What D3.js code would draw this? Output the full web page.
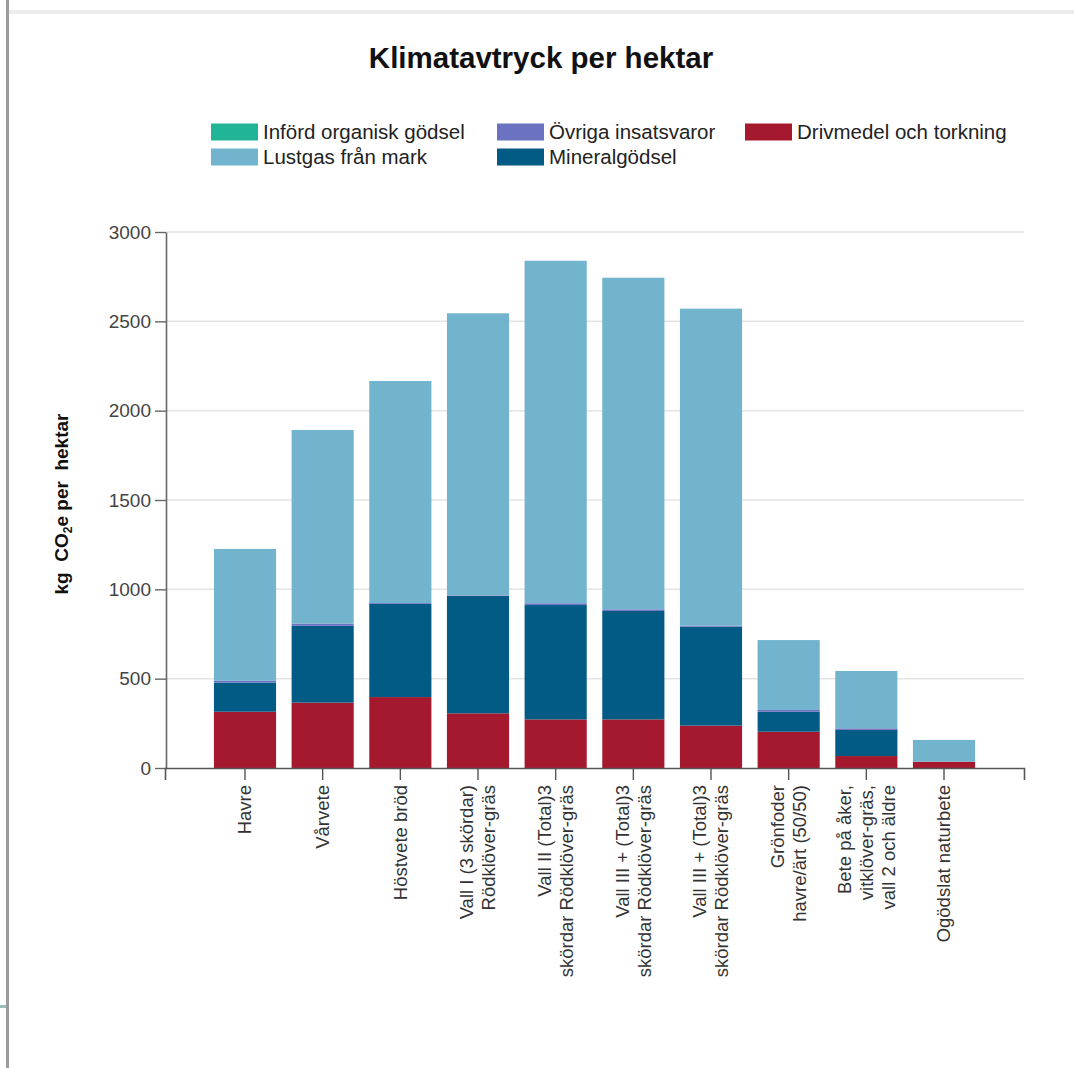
<!DOCTYPE html>
<html>
<head>
<meta charset="utf-8">
<script src="https://cdn.jsdelivr.net/npm/d3@7"></script>
<style>
  html, body { margin: 0; padding: 0; background: #fff; }
  svg { display: block; font-family: "Liberation Sans", Arial, sans-serif; }
</style>
</head>
<body>
<svg id="chart" width="1074" height="1068"></svg>
<script>
// Crop categories (line breaks mark wrapped axis labels)
const categories = [
  "Havre",
  "Vårvete",
  "Höstvete bröd",
  "Vall I (3 skördar)\nRödklöver-gräs",
  "Vall II (Total)3\nskördar Rödklöver-gräs",
  "Vall III + (Total)3\nskördar Rödklöver-gräs",
  "Vall III + (Total)3\nskördar Rödklöver-gräs",
  "Grönfoder\nhavre/ärt (50/50)",
  "Bete på åker,\nvitklöver-gräs,\nvall 2 och äldre",
  "Ogödslat naturbete"
];

// Emissions per source, kg CO2e per hektar
const drivmedel  = [315, 366, 397, 306, 272, 272, 237, 203, 67, 35];
const organisk   = [0, 0, 0, 0, 0, 0, 0, 0, 0, 0];
const mineral    = [163, 430, 521, 657, 640, 607, 554, 112, 146, 0];
const ovriga     = [10, 12, 5, 3, 10, 9, 5, 10, 9, 0];
const lustgas    = [738, 1084, 1243, 1579, 1917, 1856, 1775, 391, 321, 122];

const yTicks = [0, 500, 1000, 1500, 2000, 2500, 3000];

// Stack order, bottom to top
const seriesKeys = ["drivmedel", "organisk", "mineral", "ovriga", "lustgas"];
const seriesValues = { drivmedel, organisk, mineral, ovriga, lustgas };
const seriesColors = {
  organisk: "#1fb596",
  ovriga: "#6b72c2",
  drivmedel: "#a5192f",
  lustgas: "#72b4ce",
  mineral: "#025b85"
};
const seriesNames = {
  organisk: "Införd organisk gödsel",
  ovriga: "Övriga insatsvaror",
  drivmedel: "Drivmedel och torkning",
  lustgas: "Lustgas från mark",
  mineral: "Mineralgödsel"
};
// Legend arrangement: two rows
const legendRows = [["organisk", "ovriga", "drivmedel"], ["lustgas", "mineral"]];

const svg = d3.select("#chart");

// Page frame
svg.append("rect").attr("x", 9).attr("y", 10).attr("width", 1065).attr("height", 4).attr("fill", "#ececec");
svg.append("rect").attr("x", 6).attr("y", 0).attr("width", 3).attr("height", 1068).attr("fill", "#9c9c9c");
svg.append("rect").attr("x", 0).attr("y", 1005).attr("width", 6).attr("height", 3).attr("fill", "#9dbdbd");

const plotLeft = 166, plotRight = 1024, plotTop = 232, plotBottom = 768;

const rows = categories.map((c, i) => {
  const r = { i };
  seriesKeys.forEach(k => r[k] = seriesValues[k][i]);
  return r;
});

const x = d3.scaleBand()
  .domain(d3.range(categories.length))
  .range([165, plotRight])
  .paddingInner(0.2)
  .paddingOuter(0.63);

const y = d3.scaleLinear().domain([0, 3000]).range([plotBottom, plotTop]);

// Gridlines
svg.append("g")
  .selectAll("line")
  .data(yTicks.filter(t => t > 0))
  .join("line")
  .attr("x1", plotLeft).attr("x2", plotRight)
  .attr("y1", d => y(d)).attr("y2", d => y(d))
  .attr("stroke", "#e4e4e4").attr("stroke-width", 1.5);

// Stacked bars
const stack = d3.stack().keys(seriesKeys)(rows);
svg.append("g")
  .selectAll("g")
  .data(stack)
  .join("g")
  .attr("fill", d => seriesColors[d.key])
  .selectAll("rect")
  .data(d => d)
  .join("rect")
  .attr("x", d => x(d.data.i))
  .attr("width", x.bandwidth())
  .attr("y", d => y(d[1]))
  .attr("height", d => y(d[0]) - y(d[1]));

// Y axis
const yAxis = svg.append("g")
  .attr("transform", `translate(${plotLeft},0)`)
  .call(d3.axisLeft(y).tickValues(yTicks).tickFormat(d3.format("d"))
    .tickSize(11).tickSizeOuter(0).tickPadding(4));
yAxis.select(".domain").attr("stroke", "#666").attr("stroke-width", 1.6);
yAxis.selectAll(".tick line").attr("stroke", "#666").attr("stroke-width", 1.4);
yAxis.selectAll(".tick text")
  .attr("font-size", 19)
  .attr("fill", "#444")
  .attr("font-family", "Liberation Sans, Arial, sans-serif");

// X axis
const xAxis = svg.append("g")
  .attr("transform", `translate(0,${plotBottom})`)
  .call(d3.axisBottom(x).tickSize(12).tickSizeOuter(12).tickFormat(""));
xAxis.select(".domain").attr("stroke", "#555").attr("stroke-width", 1.6);
xAxis.selectAll(".tick line").attr("stroke", "#555").attr("stroke-width", 1.4);

// Rotated, wrapped category labels
const lineH = 22;
const labels = svg.append("g")
  .selectAll("g")
  .data(categories)
  .join("g")
  .attr("transform", (d, i) => `translate(${x(i) + x.bandwidth() / 2},${plotBottom + 17}) rotate(-90)`);
labels.each(function (d) {
  const lines = d.split("\n");
  const n = lines.length;
  d3.select(this).selectAll("text")
    .data(lines)
    .join("text")
    .attr("x", 0)
    .attr("y", (l, j) => (j - (n - 1) / 2) * lineH)
    .attr("dy", "0.35em")
    .attr("text-anchor", "end")
    .attr("font-size", 18.5)
    .attr("fill", "#333")
    .text(l => l);
});

// Y axis title
const yTitle = svg.append("text")
  .attr("transform", `translate(68,${(plotTop + plotBottom) / 2 + 4}) rotate(-90)`)
  .attr("text-anchor", "middle")
  .attr("font-size", 19)
  .attr("font-weight", "bold")
  .attr("fill", "#111")
  .style("white-space", "pre");
yTitle.append("tspan").text("kg  CO");
yTitle.append("tspan").attr("font-size", 12).attr("dy", 4).text("2");
yTitle.append("tspan").attr("dy", -4).text("e per  hektar");

// Title
svg.append("text")
  .attr("x", 541).attr("y", 68)
  .attr("text-anchor", "middle")
  .attr("font-size", 29.5)
  .attr("font-weight", "bold")
  .attr("fill", "#111")
  .text("Klimatavtryck per hektar");

// Legend
const legendCols = [211, 497, 745];
const legendY = [132, 157];
legendRows.forEach((row, r) => {
  row.forEach((key, c) => {
    const g = svg.append("g").attr("transform", `translate(${legendCols[c]},${legendY[r]})`);
    g.append("rect").attr("x", 0).attr("y", -8.5).attr("width", 47).attr("height", 17)
      .attr("fill", seriesColors[key]);
    g.append("text").attr("x", 52).attr("y", 0).attr("dy", "0.35em")
      .attr("font-size", 20.5).attr("fill", "#222")
      .text(seriesNames[key]);
  });
});
</script>
</body>
</html>
